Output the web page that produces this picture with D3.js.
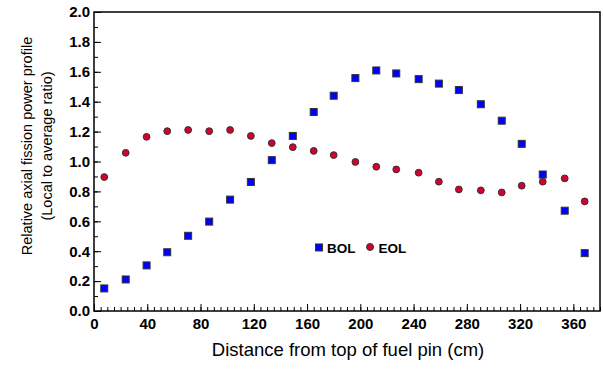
<!DOCTYPE html>
<html>
<head>
<meta charset="utf-8">
<script src="https://cdn.jsdelivr.net/npm/d3@7"></script>
<style>
  body { margin: 0; background: #fff; }
  svg { display: block; font-family: "Liberation Sans", Arial, Helvetica, sans-serif; }
  .tick text { font-weight: bold; font-size: 15px; fill: #000; }
</style>
</head>
<body>
<div id="chart"></div>
<script>
// distance from top of fuel pin (cm)
const distance = [7.7, 23.8, 39.5, 55, 70.7, 86.5, 102.2, 117.8, 133.5, 149.3, 165, 180,
                  196.3, 212, 227, 243.8, 259, 274, 290.5, 306.2, 321.2, 337, 353.5, 368.5];
const bol = [0.151, 0.211, 0.305, 0.393, 0.503, 0.598, 0.745, 0.863, 1.009, 1.171, 1.331, 1.44,
             1.558, 1.609, 1.589, 1.551, 1.521, 1.478, 1.383, 1.273, 1.118, 0.913, 0.671, 0.387];
const eol = [0.896, 1.058, 1.165, 1.203, 1.211, 1.203, 1.211, 1.171, 1.123, 1.096, 1.071, 1.043,
             0.997, 0.965, 0.947, 0.925, 0.865, 0.813, 0.807, 0.793, 0.838, 0.865, 0.887, 0.733];
const xTicks = [0, 40, 80, 120, 160, 200, 240, 280, 320, 360];
const yTicks = [0, 0.2, 0.4, 0.6, 0.8, 1.0, 1.2, 1.4, 1.6, 1.8, 2.0];

const width = 603, height = 370;
const marginTop = 12, marginLeft = 94, marginRight = 3, marginBottom = 59;
const innerW = width - marginLeft - marginRight;
const innerH = height - marginTop - marginBottom;

const svg = d3.select("#chart").append("svg")
  .attr("width", width)
  .attr("height", height);

const g = svg.append("g")
  .attr("transform", "translate(" + marginLeft + "," + marginTop + ")");

const x = d3.scaleLinear().domain([0, 380]).range([0, innerW]);
const y = d3.scaleLinear().domain([0, 2]).range([innerH, 0]);

// minor ticks first (inside)
g.append("g")
  .attr("transform", "translate(0," + innerH + ")")
  .call(d3.axisBottom(x).tickValues(d3.range(0, 381, 5)).tickSize(-4).tickFormat(""))
  .call(a => a.select(".domain").remove())
  .selectAll("line").attr("stroke", "#000");
g.append("g")
  .call(d3.axisLeft(y).tickValues(d3.range(0, 2.001, 0.1)).tickSize(-4).tickFormat(""))
  .call(a => a.select(".domain").remove())
  .selectAll("line").attr("stroke", "#000");

// major ticks with labels
const xAxis = g.append("g")
  .attr("transform", "translate(0," + innerH + ")")
  .call(d3.axisBottom(x).tickValues(xTicks).tickSize(-7).tickPadding(7).tickFormat(d3.format("d")));
xAxis.select(".domain").remove();
xAxis.selectAll("line").attr("stroke", "#000");

const yAxis = g.append("g")
  .call(d3.axisLeft(y).tickValues(yTicks).tickSize(-7).tickPadding(4).tickFormat(d3.format(".1f")));
yAxis.select(".domain").remove();
yAxis.selectAll("line").attr("stroke", "#000");

// frame
g.append("rect")
  .attr("x", 0).attr("y", 0)
  .attr("width", innerW).attr("height", innerH)
  .attr("fill", "none")
  .attr("stroke", "#000")
  .attr("stroke-width", 1.5);

const pts = distance.map((d, i) => ({ d: d, bol: bol[i], eol: eol[i] }));

g.append("g").selectAll("circle")
  .data(pts)
  .enter().append("circle")
    .attr("cx", p => x(p.d))
    .attr("cy", p => y(p.eol))
    .attr("r", 3.4)
    .attr("fill", "#d50032")
    .attr("stroke", "#333")
    .attr("stroke-width", 1);

const sq = 7;
g.append("g").selectAll("rect")
  .data(pts)
  .enter().append("rect")
    .attr("x", p => x(p.d) - sq / 2)
    .attr("y", p => y(p.bol) - sq / 2)
    .attr("width", sq).attr("height", sq)
    .attr("fill", "#0000ff")
    .attr("stroke", "#333")
    .attr("stroke-width", 1);

// legend
const leg = g.append("g").attr("transform", "translate(" + x(169) + "," + y(0.425) + ")");
leg.append("rect").attr("x", -3.5).attr("y", -3.5).attr("width", 7).attr("height", 7)
  .attr("fill", "#0000ff").attr("stroke", "#333");
leg.append("text").attr("x", 8).attr("y", 5.5).text("BOL")
  .attr("font-weight", "bold").attr("font-size", 13.5);
leg.append("circle").attr("cx", 51).attr("cy", -0.5).attr("r", 3.5)
  .attr("fill", "#d50032").attr("stroke", "#333");
leg.append("text").attr("x", 59.5).attr("y", 5.5).text("EOL")
  .attr("font-weight", "bold").attr("font-size", 13.5);

// axis titles
svg.append("text")
  .attr("text-anchor", "middle")
  .attr("x", 348)
  .attr("y", 356)
  .attr("font-size", 18.5)
  .text("Distance from top of fuel pin (cm)");

svg.append("text")
  .attr("text-anchor", "middle")
  .attr("transform", "translate(32,146) rotate(-90)")
  .attr("font-size", 14.5)
  .text("Relative axial fission power profile");
svg.append("text")
  .attr("text-anchor", "middle")
  .attr("transform", "translate(52,146) rotate(-90)")
  .attr("font-size", 14.5)
  .text("(Local to average ratio)");
</script>
</body>
</html>
